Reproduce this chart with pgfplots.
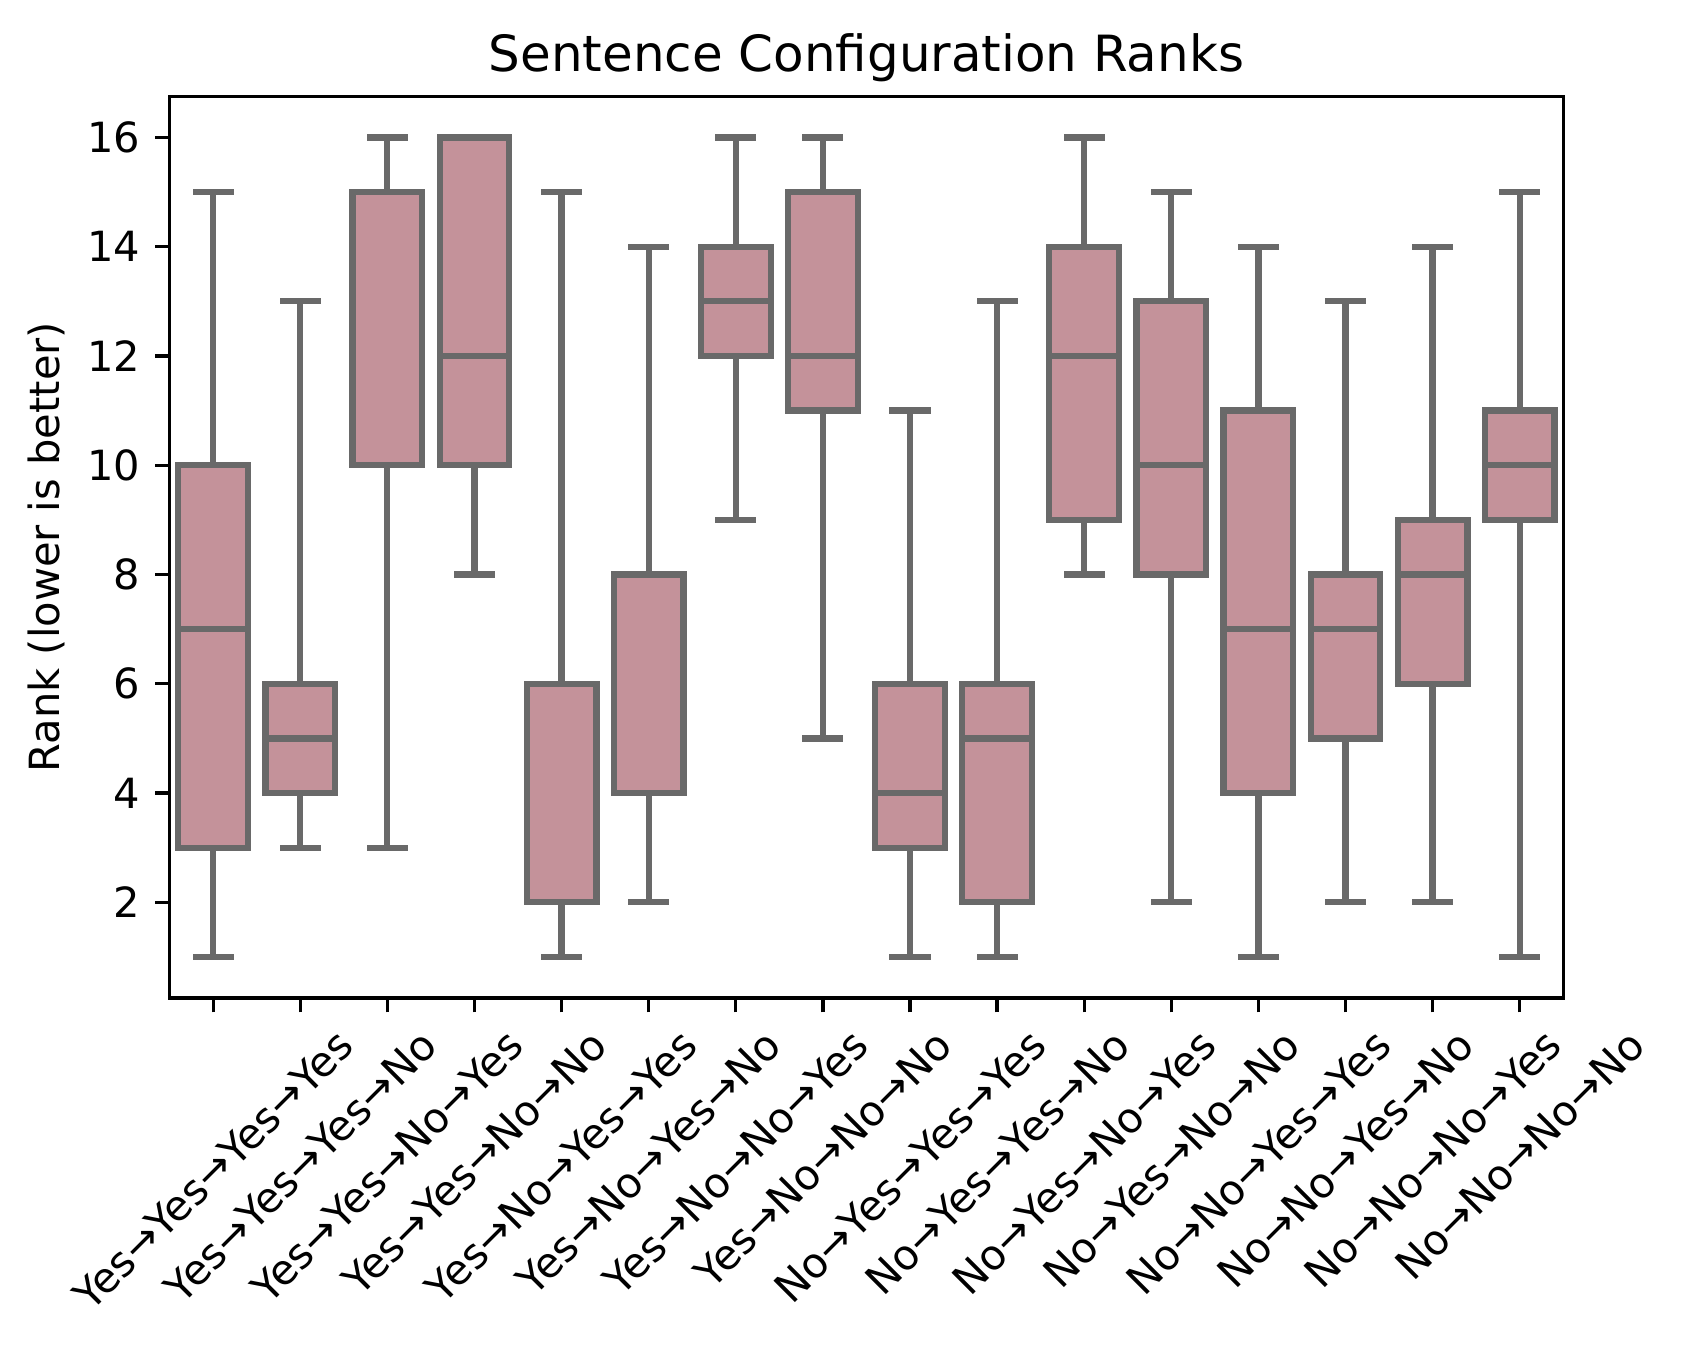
\documentclass[border=0pt]{standalone}
\usepackage{fontspec}
\setmainfont{DejaVu Sans}
\usepackage{graphicx}
\usepackage{pgfplots}
\pgfplotsset{compat=1.18}
\usepgfplotslibrary{statistics}
\definecolor{boxfill}{RGB}{196,146,154}
\definecolor{boxedge}{RGB}{105,105,105}
\newcommand{\rl}[1]{\rotatebox{45}{#1}}

\begin{document}
\begin{tikzpicture}
\begin{axis}[
    scale only axis,
    width=335pt, height=216.7pt,
    xmin=-0.5, xmax=15.5,
    ymin=0.25, ymax=16.75,
    xtick={0,...,15},
    xticklabels={
        {\rl{Yes→Yes→Yes→Yes}}, {\rl{Yes→Yes→Yes→No}},
        {\rl{Yes→Yes→No→Yes}}, {\rl{Yes→Yes→No→No}},
        {\rl{Yes→No→Yes→Yes}}, {\rl{Yes→No→Yes→No}},
        {\rl{Yes→No→No→Yes}}, {\rl{Yes→No→No→No}},
        {\rl{No→Yes→Yes→Yes}}, {\rl{No→Yes→Yes→No}},
        {\rl{No→Yes→No→Yes}}, {\rl{No→Yes→No→No}},
        {\rl{No→No→Yes→Yes}}, {\rl{No→No→Yes→No}},
        {\rl{No→No→No→Yes}}, {\rl{No→No→No→No}}},
    ytick={2,4,...,16},
    tick align=outside,
    tick pos=left,
    major tick length=3.5pt,
    every tick/.style={black, line width=0.8pt},
    axis line style={line width=0.8pt},
    ticklabel style={font=\fontsize{10}{12}\selectfont},
    /pgf/number format/assume math mode=true,
    ylabel={Rank (lower is better)},
    ylabel shift=-1.5pt,
    ylabel style={font=\fontsize{10}{12}\selectfont},
    title={Sentence Configuration Ranks},
    title style={font=\fontsize{12}{14}\selectfont, yshift=-6pt},
    boxplot/draw direction=y,
    boxplot/box extend=0.8,
    boxplot/whisker extend=0.4,
    every axis plot/.append style={fill=boxfill, draw=boxedge, line width=1.5pt, line cap=rect},
]
% lower whisker, lower quartile, median, upper quartile, upper whisker
\addplot[boxplot prepared={draw position=0, lower whisker=1, lower quartile=3, median=7, upper quartile=10, upper whisker=15}] coordinates {};
\addplot[boxplot prepared={draw position=1, lower whisker=3, lower quartile=4, median=5, upper quartile=6, upper whisker=13}] coordinates {};
\addplot[boxplot prepared={draw position=2, lower whisker=3, lower quartile=10, median=15, upper quartile=15, upper whisker=16}] coordinates {};
\addplot[boxplot prepared={draw position=3, lower whisker=8, lower quartile=10, median=12, upper quartile=16, upper whisker=16}] coordinates {};
\addplot[boxplot prepared={draw position=4, lower whisker=1, lower quartile=2, median=6, upper quartile=6, upper whisker=15}] coordinates {};
\addplot[boxplot prepared={draw position=5, lower whisker=2, lower quartile=4, median=8, upper quartile=8, upper whisker=14}] coordinates {};
\addplot[boxplot prepared={draw position=6, lower whisker=9, lower quartile=12, median=13, upper quartile=14, upper whisker=16}] coordinates {};
\addplot[boxplot prepared={draw position=7, lower whisker=5, lower quartile=11, median=12, upper quartile=15, upper whisker=16}] coordinates {};
\addplot[boxplot prepared={draw position=8, lower whisker=1, lower quartile=3, median=4, upper quartile=6, upper whisker=11}] coordinates {};
\addplot[boxplot prepared={draw position=9, lower whisker=1, lower quartile=2, median=5, upper quartile=6, upper whisker=13}] coordinates {};
\addplot[boxplot prepared={draw position=10, lower whisker=8, lower quartile=9, median=12, upper quartile=14, upper whisker=16}] coordinates {};
\addplot[boxplot prepared={draw position=11, lower whisker=2, lower quartile=8, median=10, upper quartile=13, upper whisker=15}] coordinates {};
\addplot[boxplot prepared={draw position=12, lower whisker=1, lower quartile=4, median=7, upper quartile=11, upper whisker=14}] coordinates {};
\addplot[boxplot prepared={draw position=13, lower whisker=2, lower quartile=5, median=7, upper quartile=8, upper whisker=13}] coordinates {};
\addplot[boxplot prepared={draw position=14, lower whisker=2, lower quartile=6, median=8, upper quartile=9, upper whisker=14}] coordinates {};
\addplot[boxplot prepared={draw position=15, lower whisker=1, lower quartile=9, median=10, upper quartile=11, upper whisker=15}] coordinates {};
\end{axis}
% white margin like the saved figure
\path ([xshift=4.7pt, yshift=4.7pt]current bounding box.north east);
\path ([xshift=-3.4pt, yshift=-5.5pt]current bounding box.south west);
\end{tikzpicture}
\end{document}
